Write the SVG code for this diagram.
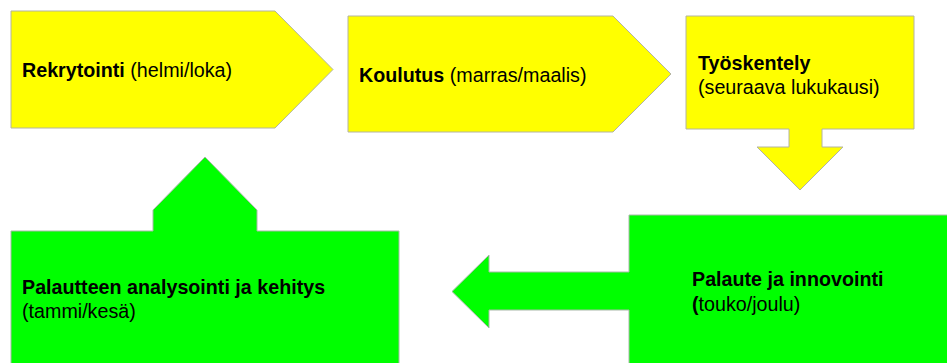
<svg xmlns="http://www.w3.org/2000/svg" width="947" height="363" viewBox="0 0 947 363">
<style>
.y{fill:#ffff00;stroke:#b4b4a0;stroke-width:1}
.g{fill:#00ff00;stroke:#a8b8a8;stroke-width:1}
text{font-family:"Liberation Sans",Arial,sans-serif;font-size:19.7px;fill:#000}
.b{font-weight:bold}
</style>
<rect width="947" height="363" fill="#ffffff"/>
<g id="rekrytointi">
<path class="y" d="M11,11 H275 L333,69.5 L275,128 H11 Z"/>
<text x="22" y="77"><tspan class="b">Rekrytointi</tspan> (helmi/loka)</text>
</g>
<g id="koulutus">
<path class="y" d="M348,16 H613 L671,74 L613,132 H348 Z"/>
<text x="359" y="82"><tspan class="b">Koulutus</tspan> (marras/maalis)</text>
</g>
<g id="tyoskentely">
<path class="y" d="M686,16 H914 V129 H822 V147 H843 L800,190 L757,147 H789 V129 H686 Z"/>
<text x="698" y="70" class="b">Työskentely</text>
<text x="698" y="94">(seuraava lukukausi)</text>
</g>
<g id="palaute">
<path class="g" d="M629,215 H948 V364 H629 V310 H489 V328 L452,291.5 L489,255 V272 H629 Z"/>
<text x="692" y="286" class="b">Palaute ja innovointi</text>
<text x="692" y="311"><tspan class="b">(</tspan>touko/joulu)</text>
</g>
<g id="analysointi">
<path class="g" d="M11,231 H153 V210 L205,157 L257,210 V231 H399 V364 H11 Z"/>
<text x="22" y="294" class="b">Palautteen analysointi ja kehitys</text>
<text x="22" y="318">(tammi/kesä)</text>
</g>
<g id="connectors"></g>
</svg>
